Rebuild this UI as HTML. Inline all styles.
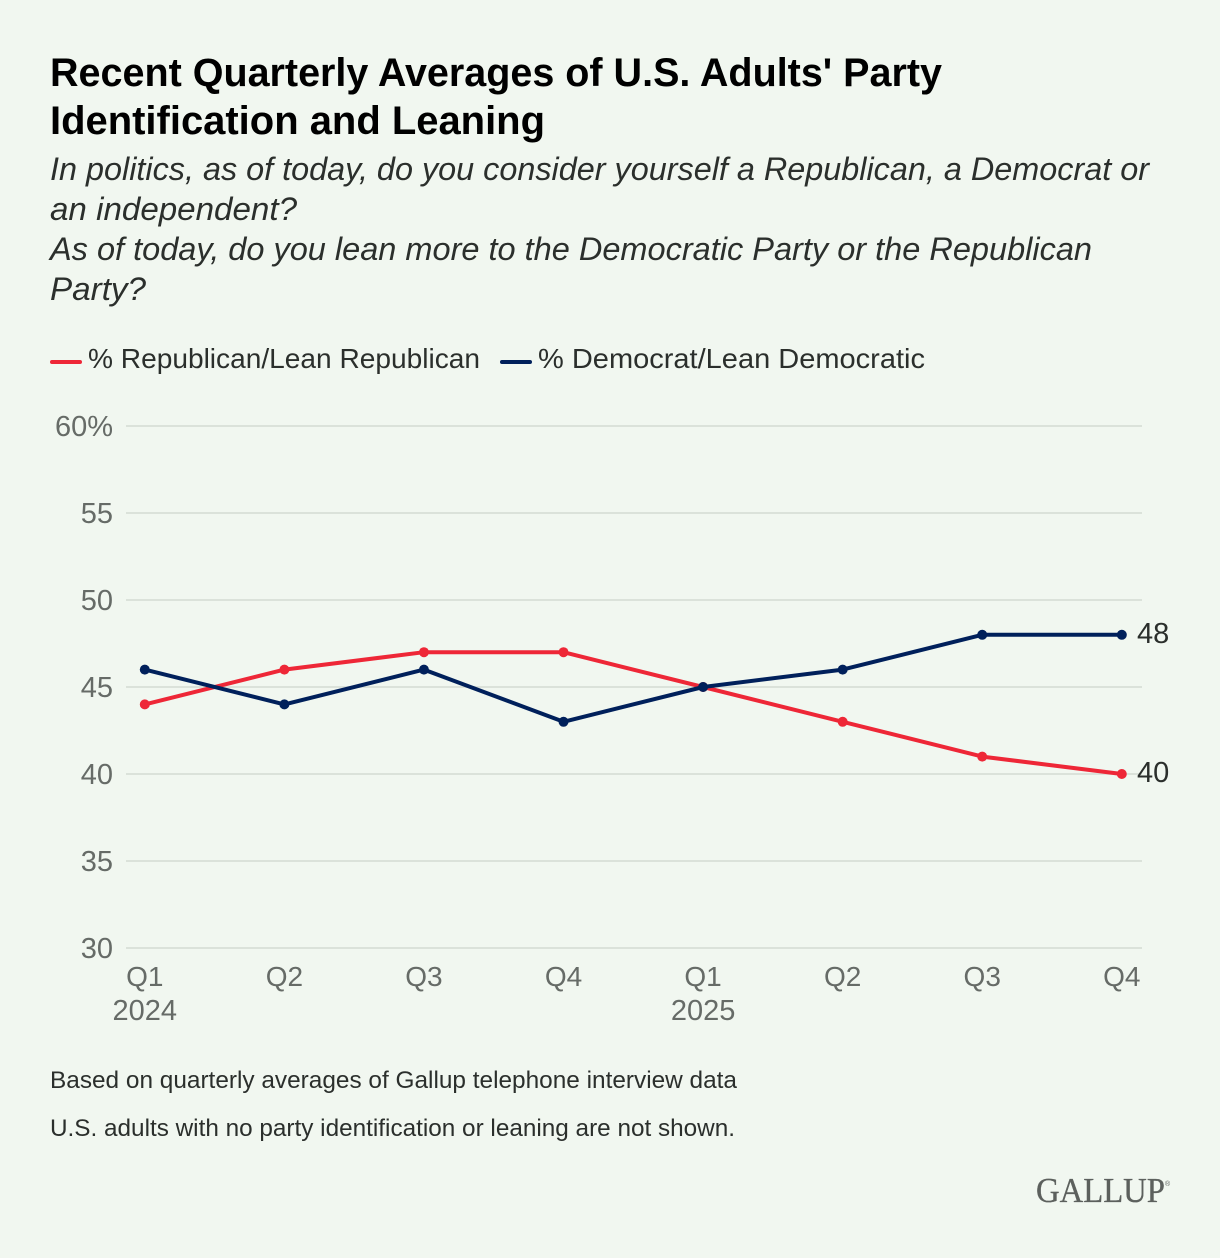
<!DOCTYPE html>
<html lang="en">
<head>
<meta charset="utf-8">
<title>Recent Quarterly Averages of U.S. Adults' Party Identification and Leaning</title>
<style>
  html, body { margin: 0; padding: 0; background: #f1f7f0; }
  #stage { display: block; width: 1220px; height: 1258px; }
  text { font-family: "Liberation Sans", sans-serif; }
</style>
</head>
<body>
<svg id="stage" xmlns="http://www.w3.org/2000/svg" width="1220" height="1258" viewBox="0 0 1220 1258">
  <rect x="0" y="0" width="1220" height="1258" fill="#f1f7f0"/>

  <g font-weight="700" font-size="40" fill="#000">
    <text x="50" y="86" textLength="892" lengthAdjust="spacingAndGlyphs">Recent Quarterly Averages of U.S. Adults' Party</text>
    <text x="50" y="134" textLength="495" lengthAdjust="spacingAndGlyphs">Identification and Leaning</text>
  </g>

  <g font-style="italic" font-size="32" fill="#2b2f2c">
    <text x="50" y="180" textLength="1099" lengthAdjust="spacingAndGlyphs">In politics, as of today, do you consider yourself a Republican, a Democrat or</text>
    <text x="50" y="220" textLength="247" lengthAdjust="spacingAndGlyphs">an independent?</text>
    <text x="50" y="260" textLength="1042" lengthAdjust="spacingAndGlyphs">As of today, do you lean more to the Democratic Party or the Republican</text>
    <text x="50" y="300" textLength="96" lengthAdjust="spacingAndGlyphs">Party?</text>
  </g>

  <g font-size="28" fill="#2b2f2c">
    <g>
      <line x1="52" y1="362" x2="80" y2="362" stroke="#ee2737" stroke-width="4" stroke-linecap="round"/>
      <text x="88" y="368" textLength="392" lengthAdjust="spacingAndGlyphs">% Republican/Lean Republican</text>
    </g>
    <g>
      <line x1="502" y1="362" x2="530" y2="362" stroke="#00205b" stroke-width="4" stroke-linecap="round"/>
      <text x="538" y="368" textLength="387" lengthAdjust="spacingAndGlyphs">% Democrat/Lean Democratic</text>
    </g>
  </g>

  <g id="grid"></g>
  <g id="yaxis"></g>
  <g id="xaxis"></g>
  <g id="series"></g>
  <g id="endlabels"></g>

  <g font-size="24" fill="#2b2f2c">
    <text x="50" y="1088" textLength="687" lengthAdjust="spacingAndGlyphs">Based on quarterly averages of Gallup telephone interview data</text>
    <text x="50" y="1136" textLength="685" lengthAdjust="spacingAndGlyphs">U.S. adults with no party identification or leaning are not shown.</text>
  </g>

  <g fill="#5c605d">
    <text x="1036" y="1202" font-size="35" stroke="#5c605d" stroke-width="0.3" textLength="129" lengthAdjust="spacingAndGlyphs" style="font-family:'Liberation Serif',serif">GALLUP</text>
    <text x="1165" y="1186" font-size="7">®</text>
  </g>
</svg>

<script>
const quarters = ['Q1', 'Q2', 'Q3', 'Q4', 'Q1', 'Q2', 'Q3', 'Q4'];
const years = ['2024', '', '', '', '2025', '', '', ''];
const republicanValues = [44, 46, 47, 47, 45, 43, 41, 40];
const democratValues = [46, 44, 46, 43, 45, 46, 48, 48];
const yTicks = [30, 35, 40, 45, 50, 55, 60];

const SVG_NS = 'http://www.w3.org/2000/svg';
const yMin = 30, yMax = 60;
const plotTop = 426, plotBottom = 948, firstX = 144.8, lastX = 1121.8;

function xScale(i) {
  return firstX + (lastX - firstX) * i / (quarters.length - 1);
}
function yScale(v) {
  return plotBottom - (plotBottom - plotTop) * (v - yMin) / (yMax - yMin);
}
function make(tag, parent, attrs, content) {
  const el = document.createElementNS(SVG_NS, tag);
  for (const k in attrs) el.setAttribute(k, attrs[k]);
  if (content !== undefined) el.textContent = content;
  parent.appendChild(el);
  return el;
}

const grid = document.getElementById('grid');
const yaxis = document.getElementById('yaxis');
const xaxis = document.getElementById('xaxis');
const seriesLayer = document.getElementById('series');
const endLabels = document.getElementById('endlabels');

yTicks.forEach(function (t) {
  const line = make('line', grid, { x1: 126, x2: 1142, y1: yScale(t), y2: yScale(t), stroke: '#dbe2da', 'stroke-width': 2 });
  
  
  const label = make('text', yaxis, { x: 113, y: yScale(t) + 10, 'text-anchor': 'end', 'font-size': 29, fill: '#666b67' }, t === yMax ? t + '%' : String(t));
  
  
});

quarters.forEach(function (q, i) {
  const qLabel = make('text', xaxis, { x: xScale(i), y: 986, 'text-anchor': 'middle', 'font-size': 28, fill: '#666b67' }, q);
  
  
  if (years[i]) {
    const yLabel = make('text', xaxis, { x: xScale(i), y: 1020, 'text-anchor': 'middle', 'font-size': 29, fill: '#666b67' }, years[i]);
    
    
  }
});

function drawSeries(values, color, key) {
  const g = make('g', seriesLayer, {});
  
  
  const pts = values.map(function (v, i) { return xScale(i) + ',' + yScale(v); }).join(' ');
  const line = make('polyline', g, { points: pts, fill: 'none', stroke: color, 'stroke-width': 4, 'stroke-linejoin': 'round', 'stroke-linecap': 'round' });
  
  
  values.forEach(function (v, i) {
    const dot = make('circle', g, { cx: xScale(i), cy: yScale(v), r: 5, fill: color });
    
    
  });
  const last = values[values.length - 1];
  const end = make('text', endLabels, { x: 1137, y: yScale(last) + 8, 'font-size': 29, fill: '#2b2f2c' }, String(last));
  
  
}

drawSeries(republicanValues, '#ee2737', 'republican');
drawSeries(democratValues, '#00205b', 'democrat');
</script>
</body>
</html>
